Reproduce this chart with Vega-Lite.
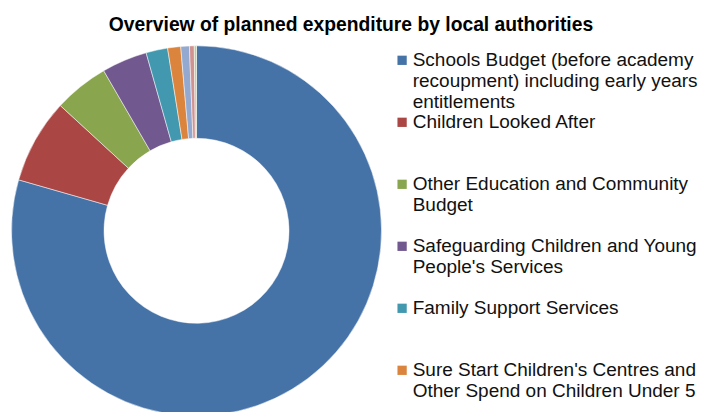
{
  "$schema": "https://vega.github.io/schema/vega-lite/v6.json",
  "padding": {"left": 0, "top": 14.8, "right": 0, "bottom": 0},
  "autosize": {"type": "pad"},
  "width": 393,
  "height": 390,
  "background": "#ffffff",
  "title": {
    "text": "Overview of planned expenditure by local authorities",
    "frame": "group",
    "anchor": "middle",
    "dx": 154.5,
    "offset": 0.9,
    "font": "Liberation Sans",
    "fontSize": 19.3,
    "fontWeight": "bold",
    "color": "#000000"
  },
  "view": {"stroke": null},
  "data": {
    "values": [
      {"category": "Schools Budget (before academy recoupment) including early years entitlements", "value": 79.44},
      {"category": "Children Looked After", "value": 7.39},
      {"category": "Other Education and Community Budget", "value": 4.81},
      {"category": "Safeguarding Children and Young People's Services", "value": 3.97},
      {"category": "Family Support Services", "value": 1.89},
      {"category": "Sure Start Children's Centres and Other Spend on Children Under 5", "value": 1.14},
      {"category": "Services for Young People", "value": 0.75},
      {"category": "Youth Justice", "value": 0.42},
      {"category": "Other Children's and Family Services", "value": 0.19}
    ]
  },
  "mark": {"type": "arc", "outerRadius": 185, "innerRadius": 92.5, "stroke": "#ffffff", "strokeWidth": 0.5},
  "encoding": {
    "theta": {"field": "value", "type": "quantitative", "stack": true},
    "order": {"field": "value", "sort": "descending"},
    "color": {
      "field": "category",
      "type": "nominal",
      "sort": null,
      "scale": {"range": ["#4572A7", "#AA4643", "#89A54E", "#71588F", "#4198AF", "#DB843D", "#93A9CF", "#D19392", "#B9CD96"]},
      "legend": {
        "title": null,
        "orient": "none",
        "legendX": 392.6,
        "legendY": 15,
        "padding": 0,
        "values": [
          "Schools Budget (before academy recoupment) including early years entitlements",
          "Children Looked After",
          "Other Education and Community Budget",
          "Safeguarding Children and Young People's Services",
          "Family Support Services",
          "Sure Start Children's Centres and Other Spend on Children Under 5"
        ],
        "symbolType": "square",
        "symbolSize": 86,
        "symbolStrokeWidth": 0,
        "labelFont": "Liberation Sans",
        "labelFontSize": 19,
        "labelColor": "#111111",
        "labelLimit": 400,
        "labelOffset": 1.1,
        "labelBaseline": "middle",
        "rowPadding": -1.5,
        "labelExpr": "datum.label == 'Schools Budget (before academy recoupment) including early years entitlements' ? ['Schools Budget (before academy', 'recoupment) including early years', 'entitlements'] : datum.label == 'Other Education and Community Budget' ? ['Other Education and Community', 'Budget', ''] : datum.label == \"Safeguarding Children and Young People's Services\" ? ['Safeguarding Children and Young', \"People's Services\", ''] : datum.label == \"Sure Start Children's Centres and Other Spend on Children Under 5\" ? [\"Sure Start Children's Centres and\", 'Other Spend on Children Under 5', ''] : [datum.label, '', '']",
        "encode": {"labels": {"lineHeight": {"value": 22.2}}}
      }
    }
  }
}
